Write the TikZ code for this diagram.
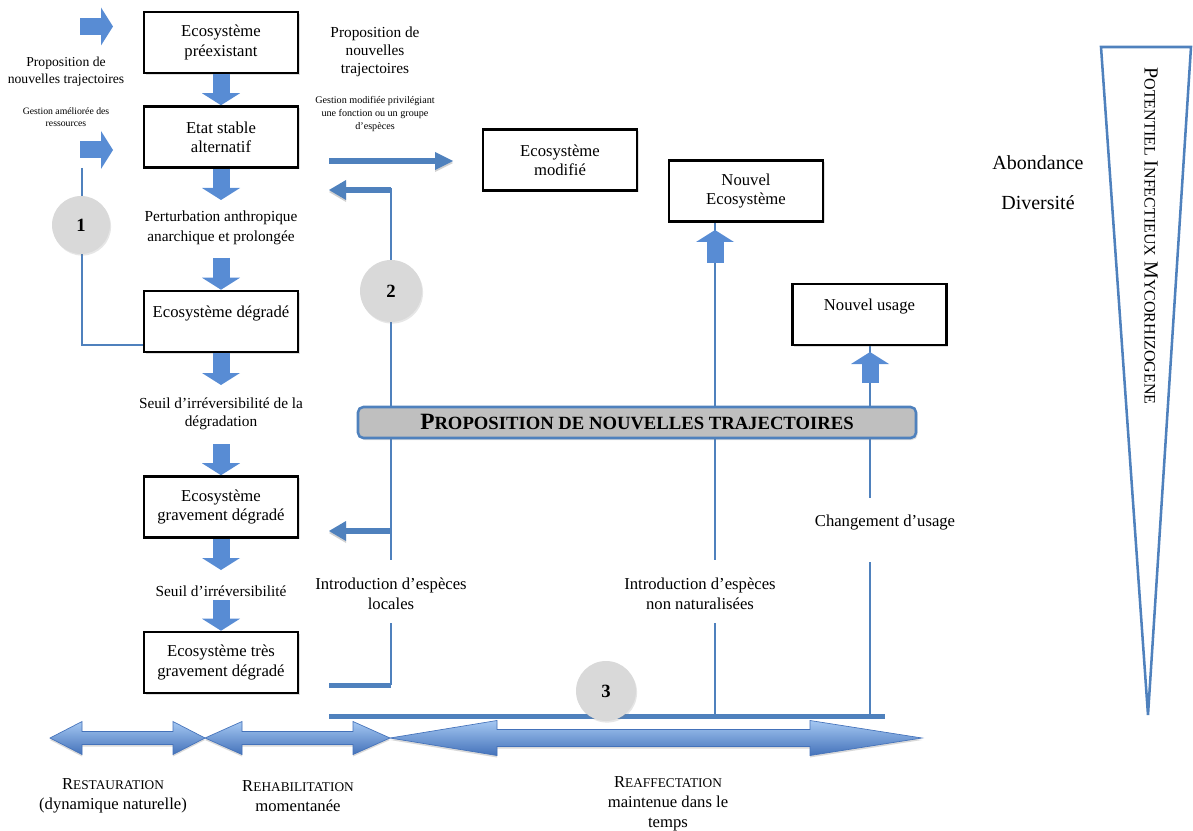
\documentclass[tikz,border=0pt]{standalone}
\usepackage{fontspec}
\setmainfont{Liberation Serif}
\usetikzlibrary{arrows.meta,shadows}
\definecolor{lineblue}{RGB}{79,129,189}
\definecolor{arrblue}{RGB}{88,140,212}
\definecolor{arrlight}{RGB}{165,200,242}
\definecolor{arrdark}{RGB}{68,114,186}
\definecolor{circgray}{RGB}{217,217,217}
\definecolor{bangray}{RGB}{191,191,191}
\newcommand\fsz[2]{\fontsize{#1}{#2}\selectfont}
\newcommand\smc[1]{{\fsz{10}{15}#1}}
\begin{document}
\begin{tikzpicture}[x=0.75pt,y=-0.75pt,
  box/.style={draw=black, line width=1.9pt, fill=white, minimum width=115.5pt,
    minimum height=45.75pt, align=center, inner sep=2pt, font=\fsz{12.5}{14.5},
    drop shadow={shadow xshift=1.2pt, shadow yshift=-1.2pt, opacity=0.25}},
  txt/.style={align=center, inner sep=0pt, font=\fsz{12.5}{15}},
  blockarr/.style={draw=arrblue, line width=12.75pt,
    -{Triangle[length=9pt, width=28.5pt, line width=0pt]}},
  harrR/.style={draw=lineblue, line width=4.5pt,
    -{Triangle[length=13.5pt, width=13.5pt, line width=0pt]},
    preaction={draw=black!18, transform canvas={yshift=-1.5pt}}},
  harrL/.style={draw=lineblue, line width=4.5pt,
    -{Triangle[length=12.75pt, width=15pt, line width=0pt]},
    preaction={draw=black!18, transform canvas={yshift=-1.5pt}}},
  thinl/.style={draw=lineblue, line width=1.5pt},
  thickl/.style={draw=lineblue, line width=3.75pt,
    preaction={draw=black!18, transform canvas={yshift=-1.5pt}}},
  circ/.style={circle, fill=circgray, inner sep=0pt, font=\bfseries\fsz{14}{16},
    drop shadow={shadow xshift=0.8pt, shadow yshift=-1.2pt, opacity=0.2}},
  banner/.style={draw=lineblue, line width=1.9pt, fill=bangray, rounded corners=4pt,
    minimum width=418.5pt, minimum height=23.25pt, inner sep=0pt,
    drop shadow={shadow xshift=1.2pt, shadow yshift=-1.5pt, opacity=0.25}},
  dblarr/.style={draw=arrdark, line width=0.5pt, top color=arrlight, bottom color=arrdark}
]
\useasboundingbox (0,0) rectangle (1193,831);

% ---- thin connector lines (drawn first)
\coordinate (l1t) at (82,168);
\coordinate (l1b) at (82,345);
\coordinate (l2t) at (391,188);
\coordinate (l2m) at (391,560);
\coordinate (l2n) at (391,623);
\coordinate (l2b) at (391,685);
\coordinate (l3t) at (715,222);
\coordinate (l3m) at (715,560);
\coordinate (l3n) at (715,623);
\coordinate (l3b) at (715,716);
\coordinate (l4t) at (870,345);
\coordinate (l4m) at (870,498);
\coordinate (l4n) at (870,562);
\coordinate (l4b) at (870,716);
\draw[thinl] (l2t) -- (l2m);
\draw[thinl] (l2n) -- (l2b);
\draw[thinl] (l3t) -- (l3m);
\draw[thinl] (l3n) -- (l3b);
\draw[thinl] (l4t) -- (l4m);
\draw[thinl] (l4n) -- (l4b);

% ---- boxes
\node[box] (b1) at (221,42.5) {Ecosystème\\préexistant};
\node[box] (b2) at (221,137) {Etat stable\\alternatif};
\node[box] (b3) at (221,321.5) {Ecosystème dégradé\\\mbox{}};
\node[box] (b4) at (221,507) {Ecosystème\\gravement dégradé};
\node[box] (b5) at (221,662.5) {Ecosystème très\\gravement dégradé};
\node[box] (bmod) at (560,160) {Ecosystème\\modifié};
\node[box] (bnew) at (746,191) {Nouvel\\Ecosystème};
\node[box] (busage) at (869.5,314.5) {Nouvel usage\\\mbox{}};

\draw[thinl] (l1t) -- (l1b) -- (b3.west |- l1b);

% ---- thick lines
\coordinate (tk1) at (329,685);
\coordinate (tk2a) at (329,716);
\coordinate (tk2b) at (885,716);
\draw[thickl] (l2b) -- (tk1);
\draw[thickl] (tk2a) -- (tk2b);

% ---- horizontal arrows
\coordinate (ha1s) at (329,161);
\coordinate (ha1e) at (453,161);
\draw[harrR] (ha1s) -- (ha1e);
\coordinate (ha2s) at (391,190);
\coordinate (ha2e) at (329,190);
\draw[harrL] (ha2s) -- (ha2e);
\coordinate (ha3s) at (391,531);
\coordinate (ha3e) at (329,531);
\draw[harrL] (ha3s) -- (ha3e);

% ---- block arrows
\coordinate (a2e) at (221,200);
\coordinate (a3s) at (221,258);
\coordinate (a4e) at (221,385);
\coordinate (a5s) at (221,444);
\coordinate (a6e) at (221,570);
\coordinate (a7s) at (221,600);
\draw[blockarr] (b1.south) -- (b2.north);
\draw[blockarr] (b2.south) -- (a2e);
\draw[blockarr] (a3s) -- (b3.north);
\draw[blockarr] (b3.south) -- (a4e);
\draw[blockarr] (a5s) -- (b4.north);
\draw[blockarr] (b4.south) -- (a6e);
\draw[blockarr] (a7s) -- (b5.north);
\coordinate (r1s) at (80,26.5);
\coordinate (r1e) at (113,26.5);
\coordinate (r2s) at (80,150);
\coordinate (r2e) at (113,150);
\draw[blockarr] (r1s) -- (r1e);
\draw[blockarr] (r2s) -- (r2e);
\coordinate (u1s) at (715,263);
\coordinate (u1e) at (715,230);
\coordinate (u2s) at (870,383);
\coordinate (u2e) at (870,352);
\draw[blockarr] (u1s) -- (u1e);
\draw[blockarr] (u2s) -- (u2e);

% ---- circles
\node[circ, minimum size=43.5pt] (c1) at (81,225) {1};
\node[circ, minimum size=46.5pt] (c2) at (391,291) {2};
\node[circ, minimum size=45pt] (c3) at (606,691) {3};

% ---- banner
\node[banner] (ban) at (637,422.5)
  {\bfseries{\fsz{17.5}{20}P}{\fsz{14}{20}ROPOSITION DE NOUVELLES TRAJECTOIRES}};

% ---- texts
\node[txt, font=\fsz{10.25}{12.5}] (tprop1) at (66,72) {Proposition de\\nouvelles trajectoires};
\node[txt, font=\fsz{7.3}{9}] (tgest1) at (66,117) {Gestion améliorée des\\ressources};
\node[txt, font=\fsz{11.5}{13.5}] (tprop2) at (375,52) {Proposition de\\nouvelles\\trajectoires};
\node[txt, font=\fsz{7.6}{9.75}] (tgest2) at (375,114) {Gestion modifiée privilégiant\\une fonction ou un groupe\\d’espèces};
\node[txt, font=\fsz{11.5}{15}] (tpert) at (221,228) {Perturbation anthropique\\anarchique et prolongée};
\node[txt, font=\fsz{11.5}{13.5}] (tseuil1) at (221,414) {Seuil d’irréversibilité de la\\dégradation};
\node[txt, font=\fsz{11.5}{13.5}] (tseuil2) at (221,591) {Seuil d’irréversibilité};
\node[txt] (tloc) at (391,594) {Introduction d’espèces\\locales};
\node[txt] (tnon) at (700,594) {Introduction d’espèces\\non naturalisées};
\node[txt] (tchg) at (885,523) {Changement d’usage};
\node[txt, font=\fsz{15}{18}] (tab) at (1038,163) {Abondance};
\node[txt, font=\fsz{15}{18}] (tdiv) at (1038,203) {Diversité};

% ---- triangle
\draw[draw=lineblue, line width=1.9pt, line join=miter] (1101,47) -- (1191,47) -- (1148,715) -- cycle;
\node[inner sep=0pt, rotate=-90, font=\fsz{15}{18}] (tpot) at (1151,236)
  {P{\fsz{12}{18}OTENTIEL} I{\fsz{12}{18}NFECTIEUX} M{\fsz{12}{18}YCORHIZOGENE}};

% ---- bottom double arrows
\fill[black!15] (50,740) -- (82,723.5) -- (82,733.5) -- (173,733.5) -- (173,723.5) -- (205,740)
  -- (173,756.5) -- (173,746.5) -- (82,746.5) -- (82,756.5) -- cycle;
\fill[black!15] (205,740) -- (242,723.5) -- (242,733.5) -- (353,733.5) -- (353,723.5) -- (390,740)
  -- (353,756.5) -- (353,746.5) -- (242,746.5) -- (242,756.5) -- cycle;
\fill[black!15] (390,740) -- (497,722.5) -- (497,731.5) -- (810,731.5) -- (810,722.5) -- (922,740)
  -- (810,757.5) -- (810,748.5) -- (497,748.5) -- (497,757.5) -- cycle;
\path[dblarr] (50,738) -- (82,721.5) -- (82,731.5) -- (173,731.5) -- (173,721.5) -- (205,738)
  -- (173,754.5) -- (173,744.5) -- (82,744.5) -- (82,754.5) -- cycle;
\path[dblarr] (205,738) -- (242,721.5) -- (242,731.5) -- (353,731.5) -- (353,721.5) -- (390,738)
  -- (353,754.5) -- (353,744.5) -- (242,744.5) -- (242,754.5) -- cycle;
\path[dblarr] (390,738) -- (497,720.5) -- (497,729.5) -- (810,729.5) -- (810,720.5) -- (922,738)
  -- (810,755.5) -- (810,746.5) -- (497,746.5) -- (497,755.5) -- cycle;

\node[txt] (trest) at (113,796) {R\smc{ESTAURATION}\\(dynamique naturelle)};
\node[txt] (treha) at (298,796) {R\smc{EHABILITATION}\\momentanée};
\node[txt] (treaf) at (668,804) {R\smc{EAFFECTATION}\\maintenue dans le\\temps};
\end{tikzpicture}
\end{document}
